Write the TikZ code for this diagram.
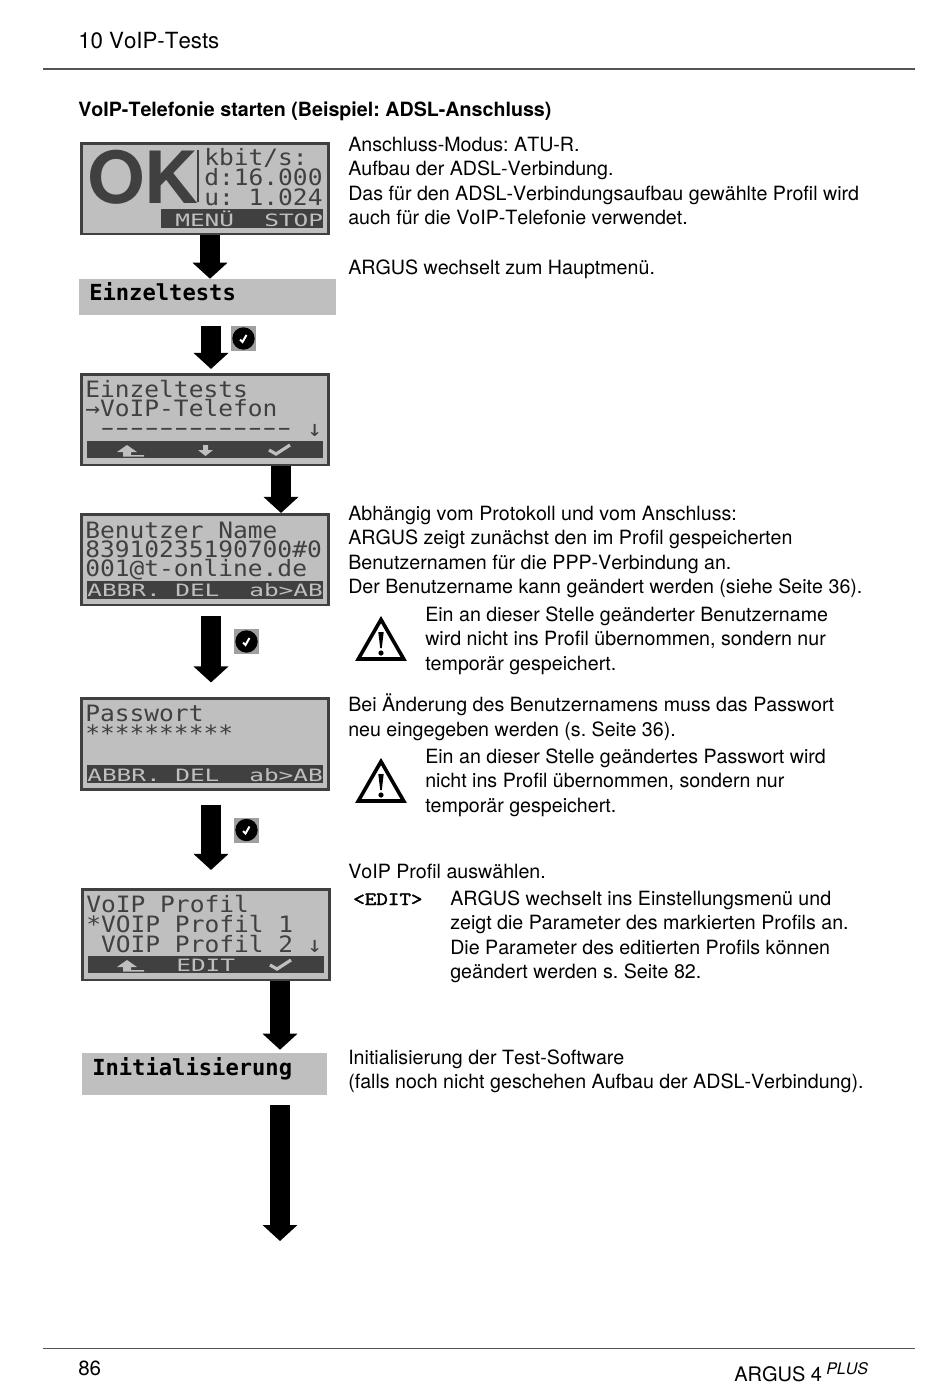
\documentclass[tikz,border=0pt]{standalone}
\usepackage{fontspec}
\usepackage{graphicx}
\usetikzlibrary{arrows.meta}
\setmainfont[Kerning=Off]{TeX Gyre Heros}
\newfontfamily\lcdfont{DejaVu Sans Mono}
\newfontfamily\codefont[FakeBold=2]{Latin Modern Mono}
\AtBeginDocument{\frenchspacing}
\definecolor{lcdbg}{HTML}{BFBFBF}
\definecolor{lcdfg}{HTML}{404040}
\definecolor{rulecol}{HTML}{555555}
\newcommand{\lcdtxt}[1]{\scalebox{1.09}[1]{\fontsize{16.9}{20}\selectfont\lcdfont #1}}
\newcommand{\softtxt}[1]{\scalebox{1.44}[1]{\fontsize{12.75}{14}\selectfont\lcdfont #1}}
\newcommand{\lcddash}{\makebox[11.05pt]{\scalebox{1.8}[1]{-}}}
\tikzset{
  lcdbox/.style={draw=lcdfg,line width=1.9pt,fill=lcdbg,minimum width=185.6pt,minimum height=67.9pt,inner sep=0},
  graybox/.style={fill=lcdbg,inner sep=0},
  lcdline/.style={anchor=base west,inner sep=0,text=lcdfg},
  softline/.style={anchor=base west,inner sep=0,text=lcdbg},
  softbar/.style={fill=lcdfg},
  menulabel/.style={anchor=base west,inner sep=0,text=black,font=\fontsize{16.6}{18}\selectfont\lcdfont\bfseries},
  para/.style={anchor=north west,inner sep=0,align=left,font=\fontsize{14.73}{18.3}\selectfont},
  bigarrow/.style={line width=15pt,draw=black,-{Triangle[length=12pt,width=25.5pt]}},
  pagerule/.style={draw=rulecol,line width=1pt},
  softback/.pic={\fill[lcdbg] (0,7)--(10,0)--(20,7)--(14,7)--(14,10)--(27,10)--(27,11.5)--(6,11.5)--(6,7)--cycle;},
  softdown/.pic={\fill[lcdbg] (5,0)--(10,0)--(10,5)--(15,5)--(7.5,11)--(0,5)--(5,5)--cycle;},
  softcheck/.pic={\draw[lcdbg,line width=2.4pt] (0,5)--(7,9)--(21,0);},
  okmark/.pic={\fill[gray!75] (0,0) rectangle (25,25);
    \fill[black] (12.5,12.5) circle[radius=11.2*0.75pt];
    \draw[white,line width=1.5pt] (9,13.5)--(11.5,16)--(15.5,9);},
  warnsign/.pic={\draw[black,line width=2.7pt,line join=miter,miter limit=10] (0,4.5)--(22.7,44)--(-22.7,44)--cycle;
    \fill[black] (-2.7,17)--(2.7,17)--(0.8,33)--(-0.8,33)--cycle;
    \fill[black] (0,38) circle[radius=2.6*0.75pt];}
}
\begin{document}
\begin{tikzpicture}[x=0.75pt,y=-0.75pt]
\path[use as bounding box,fill=white] (0,0) rectangle (950,1386);
% page furniture
\node[anchor=base west,inner sep=0,font=\fontsize{16.7}{20}\selectfont] (head) at (78,48) {10 VoIP-Tests};
\coordinate (r1a) at (43,69); \coordinate (r1b) at (915,69);
\draw[pagerule] (r1a)--(r1b);
\node[anchor=base west,inner sep=0,font=\fontsize{14.75}{18}\selectfont\bfseries] (title) at (78,116) {VoIP-Telefonie starten (Beispiel: ADSL-Anschluss)};
\coordinate (r2a) at (43,1348.5); \coordinate (r2b) at (915,1348.5);
\draw[pagerule] (r2a)--(r2b);
\node[anchor=base west,inner sep=0,font=\fontsize{15.4}{18}\selectfont] (pageno) at (78,1375) {86};
\node[anchor=base west,inner sep=0,font=\fontsize{15}{18}\selectfont] (brand) at (734,1381) {ARGUS 4};
\node[anchor=base west,inner sep=0,font=\fontsize{12}{14}\selectfont\itshape] (plus) at (826,1374) {PLUS};

% LCD 1
\node[lcdbox] (lcd1) at (205,188.5) {};
\node[anchor=base west,inner sep=0,text=lcdfg,font=\fontsize{54}{60}\selectfont\bfseries] (ok) at (87,203) {\scalebox{1.03}[1]{OK}};
\coordinate (sepa) at (198,150); \coordinate (sepb) at (198,202);
\draw[lcdfg,line width=1.5pt] (sepa)--(sepb);
\node[lcdline] (l1a) at (204,165) {\lcdtxt{kbit/s:}};
\node[lcdline] (l1b) at (204,185) {\lcdtxt{d:16.000}};
\node[lcdline] (l1c) at (204,205) {\lcdtxt{u: 1.024}};
\fill[softbar] (161,209) rectangle (323,228);
\node[softline] (s1a) at (175,226) {\softtxt{MENÜ}};
\node[softline] (s1b) at (264,226) {\softtxt{STOP}};

% label Einzeltests
\node[graybox,minimum width=192.75pt,minimum height=27pt] (einzel) at (207.5,297) {};
\node[menulabel] (einzeltxt) at (89,300) {Einzeltests};

% LCD 2
\node[lcdbox] (lcd2) at (205,419.5) {};
\node[lcdline] (l2a) at (85,397) {\lcdtxt{Einzeltests}};
\node[lcdline] (l2b) at (85,416) {\lcdtxt{→VoIP-Telefon}};
\node[lcdline,font=\fontsize{16.9}{20}\selectfont\lcdfont] (l2c) at (100,435) {\lcddash\lcddash\lcddash\lcddash\lcddash\lcddash\lcddash\lcddash\lcddash\lcddash\lcddash\lcddash\lcddash};
\node[lcdline] (l2d) at (307,436) {\lcdtxt{↓}};
\fill[softbar] (87,441) rectangle (323,458);
\pic at (117,445) {softback};
\pic at (198,445) {softdown};
\pic at (269,445) {softcheck};

% LCD 3
\node[lcdbox] (lcd3) at (205,559.5) {};
\node[lcdline] (l3a) at (85,538) {\lcdtxt{Benutzer Name}};
\node[lcdline] (l3b) at (85,557) {\lcdtxt{83910235190700\#0}};
\node[lcdline] (l3c) at (85,576) {\lcdtxt{001@t-online.de}};
\fill[softbar] (87,581) rectangle (323,599);
\node[softline] (s3a) at (87,596) {\softtxt{ABBR.}};
\node[softline] (s3b) at (175,596) {\softtxt{DEL}};
\node[softline] (s3c) at (249,596) {\softtxt{ab>AB}};

% LCD 4
\node[lcdbox] (lcd4) at (205,744) {};
\node[lcdline] (l4a) at (85,721) {\lcdtxt{Passwort}};
\node[lcdline] (l4b) at (85,741) {\lcdtxt{**********}};
\fill[softbar] (87,765) rectangle (323,783);
\node[softline] (s4a) at (87,781) {\softtxt{ABBR.}};
\node[softline] (s4b) at (175,781) {\softtxt{DEL}};
\node[softline] (s4c) at (249,781) {\softtxt{ab>AB}};

% LCD 5
\node[lcdbox] (lcd5) at (206,934.5) {};
\node[lcdline] (l5a) at (86,912) {\lcdtxt{VoIP Profil}};
\node[lcdline] (l5b) at (86,932) {\lcdtxt{*VOIP Profil 1}};
\node[lcdline] (l5c) at (100.8,952) {\lcdtxt{VOIP Profil 2}};
\node[lcdline] (l5d) at (307,952) {\lcdtxt{↓}};
\fill[softbar] (88,956) rectangle (324,973);
\pic at (117,960) {softback};
\node[softline] (s5a) at (176,971.5) {\softtxt{EDIT}};
\pic at (270,960) {softcheck};

% label Initialisierung
\node[graybox,minimum width=183.75pt,minimum height=31.5pt] (init) at (204.5,1074) {};
\node[menulabel] (inittxt) at (92,1075) {Initialisierung};

% arrows
\coordinate (end7) at (280,1241);
\draw[bigarrow] ([xshift=3.75pt]lcd1.south) -- ([xshift=1.875pt]einzel.north);
\draw[bigarrow] ([xshift=2.625pt,yshift=-8.25pt]einzel.south) -- ([xshift=4.5pt,yshift=3pt]lcd2.north);
\draw[bigarrow] ([xshift=57pt]lcd2.south) -- ([xshift=57pt]lcd3.north);
\draw[bigarrow] ([xshift=4.5pt,yshift=-7.5pt]lcd3.south) -- ([xshift=4.5pt,yshift=11.25pt]lcd4.north);
\draw[bigarrow] ([xshift=4.5pt,yshift=-10.5pt]lcd4.south) -- ([xshift=3.75pt,yshift=13.5pt]lcd5.north);
\draw[bigarrow] ([xshift=55.5pt]lcd5.south) -- ([xshift=56.625pt,yshift=2.25pt]init.north);
\draw[bigarrow] ([xshift=56.625pt,yshift=-7.5pt]init.south) -- (end7);

% confirm keys
\pic at (231,326) {okmark};
\pic at (234,629) {okmark};
\pic at (234,817.5) {okmark};

% warning signs
\pic at (381,615) {warnsign};
\pic at (381,757) {warnsign};

% right-hand text
\node[para] (p1) at (348,134) {\strut Anschluss-Modus: ATU-R.\\Aufbau der ADSL-Verbindung.\\Das für den ADSL-Verbindungsaufbau gewählte Profil wird\\auch für die VoIP-Telefonie verwendet.};
\node[para] (p2) at (348,257) {\strut ARGUS wechselt zum Hauptmenü.};
\node[para] (p3) at (348,503) {\strut Abhängig vom Protokoll und vom Anschluss:\\ARGUS zeigt zunächst den im Profil gespeicherten\\Benutzernamen für die PPP-Verbindung an.\\Der Benutzername kann geändert werden (siehe Seite 36).};
\node[para] (w1) at (425,604) {\strut Ein an dieser Stelle geänderter Benutzername\\wird nicht ins Profil übernommen, sondern nur\\temporär gespeichert.};
\node[para] (p4) at (348,694) {\strut Bei Änderung des Benutzernamens muss das Passwort\\neu eingegeben werden (s. Seite 36).};
\node[para] (w2) at (425,746) {\strut Ein an dieser Stelle geändertes Passwort wird\\nicht ins Profil übernommen, sondern nur\\temporär gespeichert.};
\node[para] (p5) at (348,861) {\strut VoIP Profil auswählen.};
\node[anchor=base west,inner sep=0,font=\fontsize{14}{16}\selectfont\codefont] (edit) at (353,905) {\scalebox{1.2}[1]{<EDIT>}};
\node[para] (p6) at (450,888) {\strut ARGUS wechselt ins Einstellungsmenü und\\zeigt die Parameter des markierten Profils an.\\Die Parameter des editierten Profils können\\geändert werden s. Seite 82.};
\node[para] (p7) at (348,1047) {\strut Initialisierung der Test-Software\\(falls noch nicht geschehen Aufbau der ADSL-Verbindung).};
\end{tikzpicture}
\end{document}
